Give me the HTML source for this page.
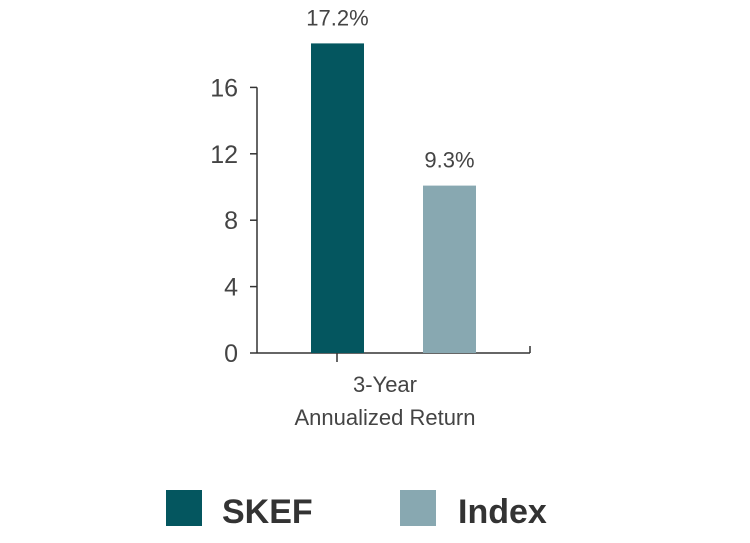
<!DOCTYPE html>
<html><head><meta charset="utf-8"><style>
html,body{margin:0;padding:0;background:#fff;}
svg{display:block;font-family:"Liberation Sans",sans-serif;}
</style></head><body>
<svg id="chart" width="750" height="543">
  <g id="axes"></g>
  <g id="bars"></g>
  <g fill="#444" font-size="22" text-anchor="middle">
    <text x="385" y="392">3-Year</text>
    <text x="385" y="425">Annualized Return</text>
  </g>
  <g>
    <g>
      <rect x="166" y="490" width="36" height="36" fill="#04565f"></rect>
      <text x="222" y="523" font-size="34" font-weight="bold" fill="#333">SKEF</text>
    </g>
    <g>
      <rect x="400" y="490" width="36" height="36" fill="#88a8b1"></rect>
      <text x="458" y="523" font-size="34" font-weight="bold" fill="#333">Index</text>
    </g>
  </g>
</svg>
<script>
const series = ["SKEF", "Index"];
const values = [17.2, 9.3];
const valueLabels = ["17.2%", "9.3%"];
const ticks = [0, 4, 8, 12, 16];

const NS = "http://www.w3.org/2000/svg";
const y0 = 353;
function yAxis(v){ return y0 - v * 16.6; }
function yBar(v){ return y0 - v * 18.0; }
const barX = [311, 423];
const colors = ["#04565f", "#88a8b1"];

function mk(tag, attrs, parent){
  const e = document.createElementNS(NS, tag);
  for (const k in attrs) e.setAttribute(k, attrs[k]);
  parent.appendChild(e);
  return e;
}
const axes = document.getElementById("axes");
const bars = document.getElementById("bars");

const yl = mk("line", {x1:257, x2:257, y1:yAxis(16), y2:y0, stroke:"#333", "stroke-width":1.5}, axes);


const xl = mk("line", {x1:257, x2:530, y1:y0, y2:y0, stroke:"#333", "stroke-width":1.5}, axes);


const rt = mk("line", {x1:530, x2:530, y1:y0-7, y2:y0, stroke:"#333", "stroke-width":1.5}, axes);


const ct = mk("line", {x1:337, x2:337, y1:y0, y2:y0+9, stroke:"#333", "stroke-width":1.5}, axes);



ticks.forEach(t => {
  const y = yAxis(t);
  const tk = mk("line", {x1:250, x2:257, y1:y, y2:y, stroke:"#333", "stroke-width":1.5}, axes);
  
  
  const tl = mk("text", {x:238, y:y+9, "text-anchor":"end", "font-size":25, fill:"#444"}, axes);
  tl.textContent = t;
  
  
});

values.forEach((v, i) => {
  const top = yBar(v);
  const r = mk("rect", {x:barX[i], y:top, width:53, height:y0-top, fill:colors[i]}, bars);
  
  
  const lb = mk("text", {x:barX[i]+26.5, y:top-18, "text-anchor":"middle", "font-size":22, fill:"#444"}, bars);
  lb.textContent = valueLabels[i];
  
  
});
</script>
</body></html>
